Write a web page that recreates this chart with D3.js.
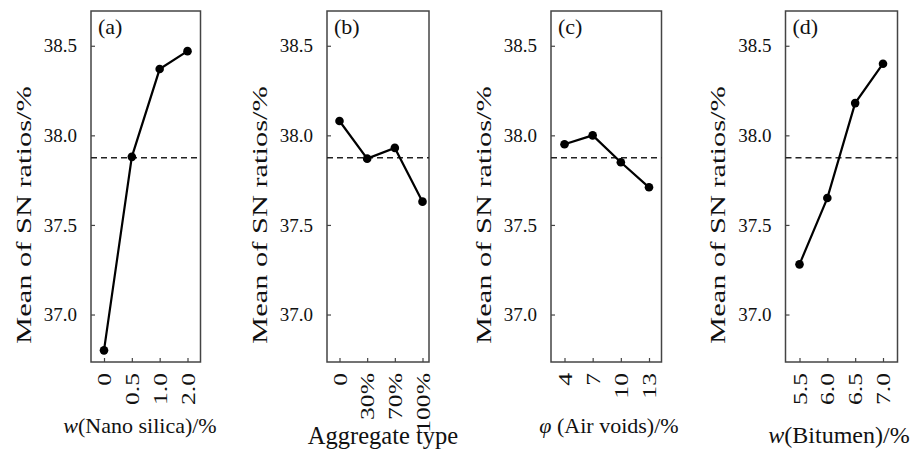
<!DOCTYPE html>
<html><head><meta charset="utf-8">
<script src="https://cdn.jsdelivr.net/npm/d3@7"></script>
<style>body{margin:0;background:#fff}svg{display:block}text{font-family:"Liberation Serif","Times New Roman",serif;fill:#111}</style>
</head><body><svg id="c" width="911" height="453"></svg>
<script>
const panelLabels = ["(a)", "(b)", "(c)", "(d)"];
const catsA = ["0", "0.5", "1.0", "2.0"];
const valsA = [36.80, 37.88, 38.37, 38.47];
const catsB = ["0", "30%", "70%", "100%"];
const valsB = [38.08, 37.87, 37.93, 37.63];
const catsC = ["4", "7", "10", "13"];
const valsC = [37.95, 38.00, 37.85, 37.71];
const catsD = ["5.5", "6.0", "6.5", "7.0"];
const valsD = [37.28, 37.65, 38.18, 38.40];
const yTicks = [37.0, 37.5, 38.0, 38.5];
const meanSN = 37.875;
const yTitle = "Mean of SN ratios/%";

// layout (pixels)
const frames = [
  {l: 91, r: 200.5, p0: 104, p1: 187.5, tx: 140, ty: 433, ts: 22, xl: [["w", true], ["(Nano silica)/%", false]]},
  {l: 327, r: 429, p0: 339.5, p1: 422.5, tx: 383, ty: 444, ts: 24.5, xl: [["Aggregate type", false]]},
  {l: 551, r: 661.5, p0: 564.5, p1: 649, tx: 609, ty: 433, ts: 22, xl: [["φ", true], [" (Air voids)/%", false]]},
  {l: 785.5, r: 897.5, p0: 799.5, p1: 883, tx: 839, ty: 443, ts: 24, xl: [["w", true], ["(Bitumen)/%", false]]}
];
const cats = [catsA, catsB, catsC, catsD];
const vals = [valsA, valsB, valsC, valsD];
const plotTop = 11, plotBottom = 362;
const yTitleLen = 258;

const svg = d3.select("#c");
const y = d3.scaleLinear().domain([36.735, 38.694]).range([plotBottom, plotTop]);

frames.forEach((f, i) => {
  const g = svg.append("g");
  const x = d3.scalePoint().domain(cats[i]).range([f.p0, f.p1]);
  const ya = d3.axisLeft(y).tickValues(yTicks).tickFormat(d3.format(".1f")).tickSize(-4).tickPadding(14);
  const yg = g.append("g").attr("transform", `translate(${f.l},0)`).call(ya);
  yg.select(".domain").remove();
  yg.selectAll(".tick line").attr("stroke", "#444").attr("stroke-width", 1.2);
  yg.selectAll(".tick text").attr("font-size", 19).attr("font-family", "Liberation Serif").attr("fill", "#111");
  const xa = d3.axisBottom(x).tickSize(-4).tickPadding(0);
  const xg = g.append("g").attr("transform", `translate(0,${plotBottom})`).call(xa);
  xg.select(".domain").remove();
  xg.selectAll(".tick line").attr("stroke", "#444").attr("stroke-width", 1.2);
  xg.selectAll(".tick text").attr("font-size", 19).attr("font-family", "Liberation Serif").attr("fill", "#111")
    .attr("text-anchor", "end").attr("x", 0).attr("y", 0).attr("dy", "0.35em")
    .attr("transform", "translate(0,11) rotate(-90) scale(1.35,1)");
  g.append("rect").attr("x", f.l).attr("y", plotTop).attr("width", f.r - f.l).attr("height", plotBottom - plotTop)
    .attr("fill", "none").attr("stroke", "#444").attr("stroke-width", 1.5);
  g.append("line").attr("x1", f.l).attr("x2", f.r).attr("y1", y(meanSN)).attr("y2", y(meanSN))
    .attr("stroke", "#222").attr("stroke-width", 1.3).attr("stroke-dasharray", "6,4");
  const pts = cats[i].map((c, j) => [x(c), y(vals[i][j])]);
  g.append("path").attr("d", d3.line()(pts)).attr("fill", "none").attr("stroke", "#000").attr("stroke-width", 2.2);
  g.selectAll("circle.m").data(pts).join("circle").attr("class", "m").attr("cx", d => d[0]).attr("cy", d => d[1]).attr("r", 4.3).attr("fill", "#000");
  g.append("text").attr("x", f.l + 7).attr("y", plotTop + 23).attr("font-size", 22).text(panelLabels[i]);
  const yt = g.append("text").attr("text-anchor", "middle").attr("dy", "0.35em").attr("font-size", 22).text(yTitle);
  const natural = yt.node().getComputedTextLength() || 186;
  yt.attr("transform", `translate(${f.l - 68},215) rotate(-90) scale(${yTitleLen / natural},1)`);
  const xt = g.append("text").attr("x", f.tx).attr("y", f.ty).attr("text-anchor", "middle").attr("font-size", f.ts);
  f.xl.forEach(([s, it]) => xt.append("tspan").attr("font-style", it ? "italic" : "normal").text(s));
});
</script></body></html>
